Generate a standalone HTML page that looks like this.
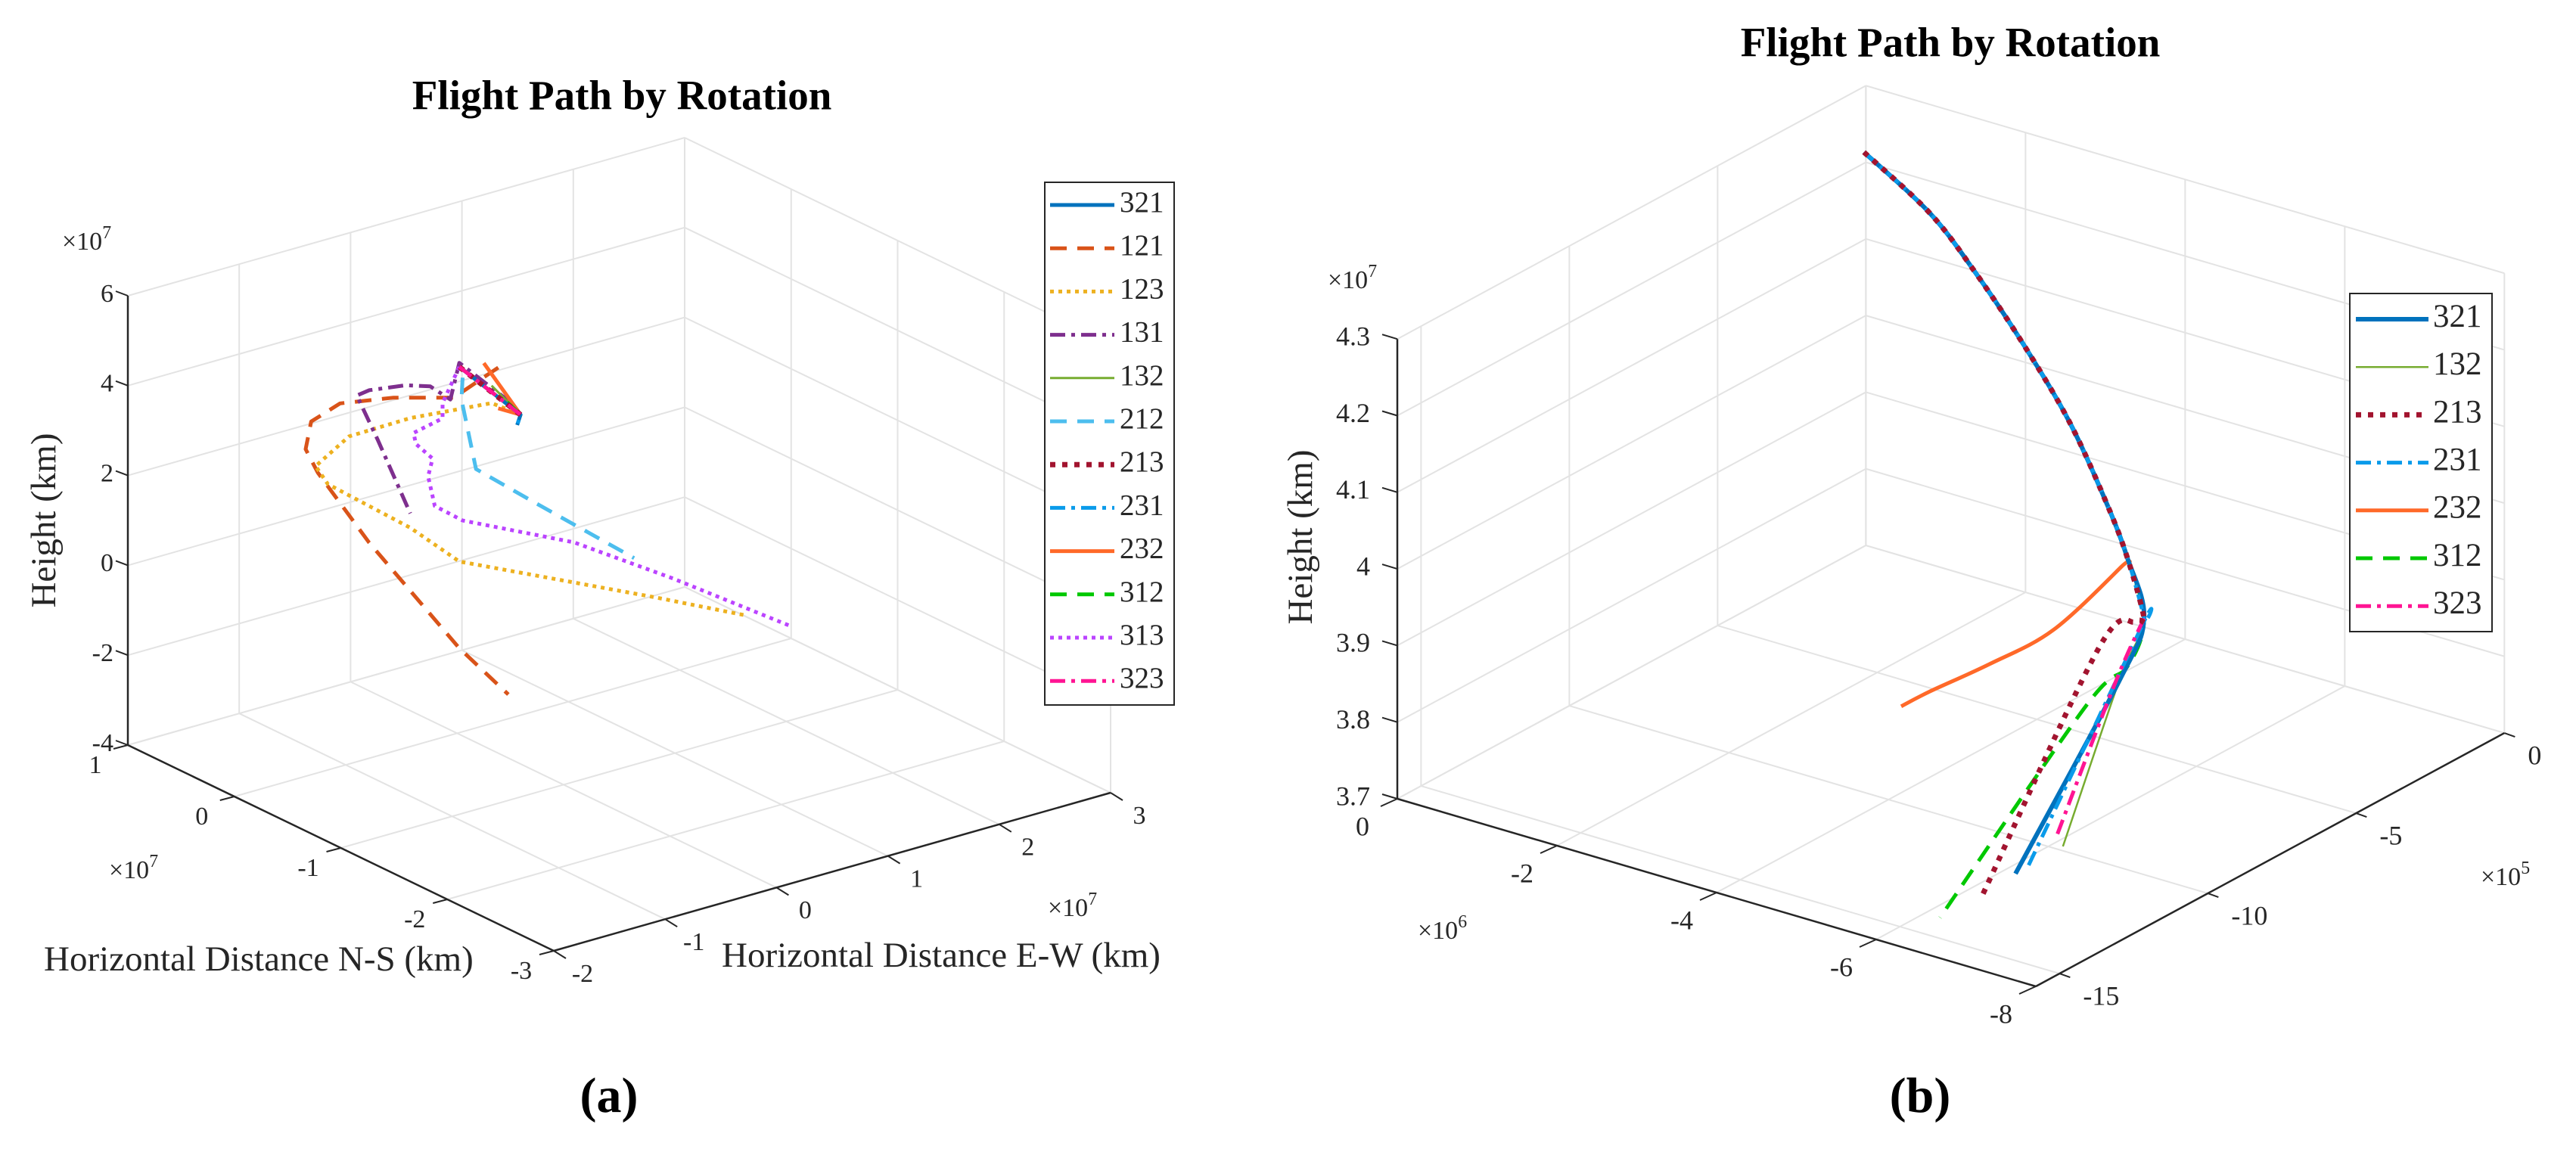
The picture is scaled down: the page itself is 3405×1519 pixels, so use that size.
<!DOCTYPE html>
<html><head><meta charset="utf-8"><title>Flight Path by Rotation</title>
<style>
html,body{margin:0;padding:0;background:#fff;}
svg{display:block;font-family:"Liberation Serif",serif;}
</style></head>
<body>
<svg id="fig" width="3405" height="1519" viewBox="0 0 3405 1519" xmlns="http://www.w3.org/2000/svg"></svg>
<script>
// ---------- Panel (a) data (units: ×10^7 km) ----------
const aEwTicks = [-2, -1, 0, 1, 2, 3];
const aNsTicks = [1, 0, -1, -2, -3];
const aZTicks = [-4, -2, 0, 2, 4, 6];
const aSeriesNames = ['321','121','123','131','132','212','213','231','232','312','313','323'];
const a121Ew = [0.37,-0.03,-0.57,-1.05,-1.31,-1.36,-1.25,-0.79,0.02,0.46];
const a121Ns = [0,0,0,0,0,0,0,0,0,0];
const a121Z  = [3.88,3.49,3.87,4.08,3.86,3.28,2.68,0.80,-2.12,-3.46];
const a123Ew = [0.57,0.31,-0.42,-0.97,-1.27,-1.16,-0.42,0.02,1.79,2.60];
const a123Ns = [0,0,0,0,0,0,0,0,0,0];
const a123Z  = [2.69,3.13,3.31,3.29,2.84,2.36,0.87,-0.19,-2.24,-3.21];
const a131Ew = [0.49,0.02,-0.06,-0.24,-0.46,-0.79,-0.90,-0.71,-0.42];
const a131Ns = [0,0,0,0,0,0,0,0,0];
const a131Z  = [3.00,4.23,3.47,3.89,4.07,4.19,4.15,3.02,1.19];
const a212Ew = [0.05,0.04,0.17,0.69,1.59];
const a212Ns = [0,0,0,0,0];
const a212Z  = [3.88,3.40,1.76,0.66,-1.22];
const a313Ew = [0.02,-0.13,-0.13,-0.39,-0.37,-0.22,-0.26,-0.20,0.05,1.05,1.94,3.00];
const a313Ns = [0,0,0,0,0,0,0,0,0,0,0,0];
const a313Z  = [4.14,3.44,3.10,2.96,2.70,2.27,1.90,1.20,0.70,-0.49,-1.92,-3.73];
const a321Ew = [0.02,0.57,0.54];
const a321Ns = [0,0,0];
const a321Z  = [4.14,2.69,2.48];
const a132Ew = [0.31,0.57];
const a132Ns = [0,0];
const a132Z  = [3.52,2.69];
const a213Ew = [0.02,0.57];
const a213Ns = [0,0];
const a213Z  = [4.14,2.69];
const a231Ew = [0.02,0.57,0.54];
const a231Ns = [0,0,0];
const a231Z  = [4.14,2.69,2.48];
const a232Ew = [0.37,0.57,0.24];
const a232Ns = [0,0,0];
const a232Z  = [2.97,2.69,4.07];
const a312Ew = [0.45,0.57];
const a312Ns = [0,0];
const a312Z  = [3.05,2.69];
const a323Ew = [0.02,0.57];
const a323Ns = [0,0];
const a323Z  = [4.14,2.69];

// ---------- Panel (b) data (ew ×10^5, ns ×10^6, z ×10^7) ----------
const bEwTicks = [-15, -10, -5, 0];
const bNsTicks = [0, -2, -4, -6, -8];
const bZTicks = [3.7, 3.8, 3.9, 4.0, 4.1, 4.2, 4.3];
const bZTickLabels = ['3.7','3.8','3.9','4','4.1','4.2','4.3'];
const bSeriesNames = ['321','132','213','231','232','312','323'];
const bTrunkEw = [-1.41,-0.56,-1.72,-2.75,-3.91,-5.35,-5.99,-6.77];
const bTrunkNs = [-0.5,-1,-2,-3,-4,-5,-5.5,-6];
const bTrunkZ  = [4.258,4.177,4.155,4.111,4.066,4.021,3.978,3.930];
const b321Ew = bTrunkEw.concat([-8.96,-15.14]);
const b321Ns = bTrunkNs.concat([-6.5,-7.5]);
const b321Z  = bTrunkZ.concat([3.909,3.818]);
const b231Ew = bTrunkEw.concat([-6.85,-14.71]);
const b231Ns = bTrunkNs.concat([-6,-7.5]);
const b231Z  = bTrunkZ.concat([3.921,3.819]);
const b213Ew = bTrunkEw.concat([-7.05,-8.30,-15.70]);
const b213Ns = bTrunkNs.concat([-6,-6,-7.3]);
const b213Z  = bTrunkZ.concat([3.932,3.923,3.797]);
const b132Ew = [-5.35,-5.99,-6.77,-8.96,-13.54];
const b132Ns = [-5,-5.5,-6,-6.5,-7.5];
const b132Z  = [4.021,3.978,3.930,3.909,3.820];
const b312Ew = [-5.35,-5.99,-6.77,-7.33,-9.27,-15.8];
const b312Ns = [-5,-5.5,-6,-6,-6.2,-6.8];
const b312Z  = [4.021,3.978,3.930,3.879,3.874,3.753];
const b323Ew = [-6.77,-9.11,-13.74];
const b323Ns = [-6,-6.5,-7.5];
const b323Z  = [3.930,3.908,3.839];
const b232Ew = [-5.35,-5.99,-6.19,-7.14,-7.94,-8.63,-8.50];
const b232Ns = [-5,-5.5,-5.5,-5,-4.5,-4,-3.6];
const b232Z  = [4.021,3.978,3.970,3.892,3.849,3.812,3.778];

const NS = 'http://www.w3.org/2000/svg';
const svg = document.getElementById('fig');

function projA(ew, ns, z){
  return [169 + (ew+2)*147.2 + (1-ns)*140.75, 985 - (ew+2)*41.8 + (1-ns)*68 - (z+4)*59.4];
}
function projB(ew, ns, z){
  return [1847 + (ew+15.8)*39.2 - ns*105.5, 1056 - (ew+15.8)*21.2 - ns*31 - (z-3.7)*1013];
}

function mk(tag, parent){ const e = document.createElementNS(NS, tag); parent.appendChild(e); return e; }
function seg(parent, p, q, color, w){
  const l = mk('line', parent);
  l.setAttribute('x1', p[0]); l.setAttribute('y1', p[1]);
  l.setAttribute('x2', q[0]); l.setAttribute('y2', q[1]);
  l.setAttribute('stroke', color); l.setAttribute('stroke-width', w);
  return l;
}
function txt(parent, x, y, s, size, anchor, weight){
  const t = mk('text', parent);
  t.setAttribute('x', x); t.setAttribute('y', y);
  t.setAttribute('font-size', size);
  t.setAttribute('text-anchor', anchor || 'middle');
  t.setAttribute('dominant-baseline', 'middle');
  t.setAttribute('fill', '#262626');
  if (weight) t.setAttribute('font-weight', weight);
  t.textContent = s;
  return t;
}
function exponent(parent, x, y, base, exp, size){
  const t = mk('text', parent);
  t.setAttribute('x', x); t.setAttribute('y', y);
  t.setAttribute('font-size', size); t.setAttribute('fill', '#262626');
  t.setAttribute('dominant-baseline', 'middle');
  t.textContent = '\u00d7' + base;
  const s = mk('tspan', t);
  s.setAttribute('dy', -size*0.35); s.setAttribute('font-size', size*0.7);
  s.textContent = exp;
  return t;
}
// smooth path (Catmull-Rom) through projected points
function smoothPath(pts){
  if (pts.length < 3) return 'M' + pts.map(p=>p[0].toFixed(1)+','+p[1].toFixed(1)).join(' L');
  let d = 'M' + pts[0][0].toFixed(1) + ',' + pts[0][1].toFixed(1);
  for (let i = 0; i < pts.length-1; i++){
    const p0 = pts[Math.max(i-1,0)], p1 = pts[i], p2 = pts[i+1], p3 = pts[Math.min(i+2,pts.length-1)];
    const c1 = [p1[0]+(p2[0]-p0[0])/6, p1[1]+(p2[1]-p0[1])/6];
    const c2 = [p2[0]-(p3[0]-p1[0])/6, p2[1]-(p3[1]-p1[1])/6];
    d += ' C' + c1.map(v=>v.toFixed(1)).join(',') + ' ' + c2.map(v=>v.toFixed(1)).join(',') + ' ' + p2.map(v=>v.toFixed(1)).join(',');
  }
  return d;
}

const styles = {
  '321': {c:'#0072BD', w:5, d:''},
  '121': {c:'#D95319', w:5, d:'22 14'},
  '123': {c:'#EDB120', w:5, d:'5 6'},
  '131': {c:'#7E2F8E', w:5, d:'20 8 5 8'},
  '132': {c:'#77AC30', w:3, d:''},
  '212': {c:'#4DBEEE', w:5, d:'22 14'},
  '213': {c:'#A2142F', w:7, d:'7 9'},
  '231': {c:'#0A9BEA', w:5, d:'20 8 5 8'},
  '232': {c:'#FF6929', w:5, d:''},
  '312': {c:'#00C800', w:5, d:'22 14'},
  '313': {c:'#BB44FF', w:5, d:'5 6'},
  '323': {c:'#FF1493', w:5, d:'20 8 5 8'}
};

function drawPanel(cfg){
  const g = mk('g', svg);
  
  
  const P = cfg.proj;
  const [e0,e1] = cfg.ewR, [n0,n1] = cfg.nsR, [z0,z1] = cfg.zR;
  const grid = mk('g', g);
  
  
  const gc = '#e3e3e3';
  cfg.ewT.forEach(e => {
    seg(grid, P(e,n0,z0), P(e,n1,z0), gc, 2);
    seg(grid, P(e,n1,z0), P(e,n1,z1), gc, 2);
  });
  cfg.nsT.forEach(n => {
    seg(grid, P(e0,n,z0), P(e1,n,z0), gc, 2);
    seg(grid, P(e1,n,z0), P(e1,n,z1), gc, 2);
  });
  cfg.zT.forEach(z => {
    seg(grid, P(e0,n1,z), P(e1,n1,z), gc, 2);
    seg(grid, P(e1,n1,z), P(e1,n0,z), gc, 2);
  });
  const ax = mk('g', g);
  
  
  const ac = '#262626';
  seg(ax, P(e0,n1,z0), P(e0,n1,z1), ac, 2.5);
  seg(ax, P(e0,n1,z0), P(e0,n0,z0), ac, 2.5);
  seg(ax, P(e0,n0,z0), P(e1,n0,z0), ac, 2.5);
  cfg.zT.forEach((z,i) => {
    const p = P(e0,n1,z);
    seg(ax, p, [p[0]+cfg.zTk[0], p[1]+cfg.zTk[1]], ac, 2);
    const t = txt(ax, cfg.zLabX, p[1], cfg.zLab[i], cfg.fs, 'end');
    
    
  });
  cfg.nsT.forEach((n,i) => {
    const p = P(e0,n,z0);
    seg(ax, p, [p[0]+cfg.nTk[0], p[1]+cfg.nTk[1]], ac, 2);
    const t = txt(ax, p[0]+cfg.nOff[0], p[1]+cfg.nOff[1], cfg.nLab[i], cfg.fs, 'middle');
    
    
  });
  cfg.ewT.forEach((e,i) => {
    const p = P(e,n0,z0);
    seg(ax, p, [p[0]+cfg.eTk[0], p[1]+cfg.eTk[1]], ac, 2);
    const t = txt(ax, p[0]+cfg.eOff[0], p[1]+cfg.eOff[1], cfg.eLab[i], cfg.fs, cfg.eAnchor);
    
    
  });
  const sg = mk('g', g);
  
  
  cfg.series.forEach(s => {
    const st = styles[s.key];
    const pts = s.ew.map((e,i) => P(e, s.ns[i], s.z[i]));
    const pl = mk('path', sg);
    if (cfg.smooth) {
      pl.setAttribute('d', smoothPath(pts));
    } else {
      pl.setAttribute('d', 'M' + pts.map(p=>p[0].toFixed(1)+','+p[1].toFixed(1)).join(' L'));
    }
    pl.setAttribute('fill', 'none');
    pl.setAttribute('stroke', st.c);
    pl.setAttribute('stroke-width', s.w || st.w);
    if (st.d) pl.setAttribute('stroke-dasharray', s.d || st.d);
    pl.setAttribute('stroke-linejoin', 'round');
    
    
  });
  const lg = mk('g', g);
  
  
  const L = cfg.leg;
  const r = mk('rect', lg);
  r.setAttribute('x', L.x); r.setAttribute('y', L.y);
  r.setAttribute('width', L.w); r.setAttribute('height', L.h);
  r.setAttribute('fill', '#fff'); r.setAttribute('stroke', '#262626'); r.setAttribute('stroke-width', 2);
  cfg.names.forEach((nm,i) => {
    const st = styles[nm];
    const y = L.y0 + i*L.dy;
    const e = mk('g', lg);
    
    
    const ln = seg(e, [L.lx0, y], [L.lx1, y], st.c, (cfg.legW && cfg.legW[nm]) || st.w);
    if (st.d) ln.setAttribute('stroke-dasharray', st.d);
    txt(e, L.tx, y, nm, L.fs, 'start');
  });
}

drawPanel({
  name: 'panel-a-chart', proj: projA, smooth: false,
  ewR:[-2,3], nsR:[-3,1], zR:[-4,6],
  ewT:aEwTicks, nsT:aNsTicks, zT:aZTicks,
  zLab:aZTicks.map(String), nLab:aNsTicks.map(String), eLab:aEwTicks.map(String),
  fs:34, zLabX:150, zTk:[-16,-6], nTk:[-19,5], eTk:[16,10],
  nOff:[-43,29], eOff:[38,33], eAnchor:'middle',
  series:[
    {key:'121', ew:a121Ew, ns:a121Ns, z:a121Z},
    {key:'123', ew:a123Ew, ns:a123Ns, z:a123Z},
    {key:'131', ew:a131Ew, ns:a131Ns, z:a131Z},
    {key:'212', ew:a212Ew, ns:a212Ns, z:a212Z},
    {key:'313', ew:a313Ew, ns:a313Ns, z:a313Z},
    {key:'132', ew:a132Ew, ns:a132Ns, z:a132Z},
    {key:'232', ew:a232Ew, ns:a232Ns, z:a232Z},
    {key:'312', ew:a312Ew, ns:a312Ns, z:a312Z},
    {key:'321', ew:a321Ew, ns:a321Ns, z:a321Z},
    {key:'231', ew:a231Ew, ns:a231Ns, z:a231Z},
    {key:'213', ew:a213Ew, ns:a213Ns, z:a213Z},
    {key:'323', ew:a323Ew, ns:a323Ns, z:a323Z}
  ],
  names:aSeriesNames,
  leg:{x:1381,y:241,w:171,h:691,y0:271,dy:57.2,lx0:1388,lx1:1473,tx:1480,fs:39}
});

drawPanel({
  name: 'panel-b-chart', proj: projB, smooth: true,
  ewR:[-15.8,0], nsR:[-8,0], zR:[3.7,4.3],
  ewT:bEwTicks, nsT:bNsTicks, zT:bZTicks,
  zLab:bZTickLabels, nLab:bNsTicks.map(String), eLab:bEwTicks.map(String),
  fs:36, zLabX:1811, zTk:[-20,-6], nTk:[-22,10], eTk:[14,5],
  nOff:[-46,40], eOff:[31,33], eAnchor:'start',
  series:[
    {key:'232', ew:b232Ew, ns:b232Ns, z:b232Z},
    {key:'132', ew:b132Ew, ns:b132Ns, z:b132Z, w:2.5},
    {key:'312', ew:b312Ew, ns:b312Ns, z:b312Z, d:'24 14'},
    {key:'321', ew:b321Ew, ns:b321Ns, z:b321Z, w:6},
    {key:'231', ew:b231Ew, ns:b231Ns, z:b231Z},
    {key:'323', ew:b323Ew, ns:b323Ns, z:b323Z},
    {key:'213', ew:b213Ew, ns:b213Ns, z:b213Z, w:7}
  ],
  names:bSeriesNames,
  legW:{'321':6,'132':2.5,'213':7},
  leg:{x:3106,y:388,w:188,h:447,y0:422,dy:63.2,lx0:3114,lx1:3210,tx:3216,fs:43}
});

const lab = mk('g', svg);


let t;
t = txt(lab, 822, 132, 'Flight Path by Rotation', 55, 'middle', 'bold'); t.setAttribute('fill','#000');


t = txt(lab, 2578, 62, 'Flight Path by Rotation', 55, 'middle', 'bold'); t.setAttribute('fill','#000');


t = txt(lab, 62, 688, 'Height (km)', 47, 'middle');
t.setAttribute('transform', 'rotate(-90 62 688)');


t = txt(lab, 1723, 710, 'Height (km)', 47, 'middle');
t.setAttribute('transform', 'rotate(-90 1723 710)');


t = txt(lab, 58, 1272, 'Horizontal Distance N-S (km)', 47, 'start');


t = txt(lab, 954, 1267, 'Horizontal Distance E-W (km)', 47, 'start');


t = exponent(lab, 82, 322, '10', '7', 34);


t = exponent(lab, 144, 1153, '10', '7', 34);


t = exponent(lab, 1385, 1203, '10', '7', 34);


t = exponent(lab, 1755, 373, '10', '7', 34);


t = exponent(lab, 1874, 1233, '10', '6', 34);


t = exponent(lab, 3279, 1162, '10', '5', 34);


t = txt(lab, 805, 1455, '(a)', 66, 'middle', 'bold'); t.setAttribute('fill','#000');


t = txt(lab, 2538, 1455, '(b)', 66, 'middle', 'bold'); t.setAttribute('fill','#000');


</script>
</body></html>
